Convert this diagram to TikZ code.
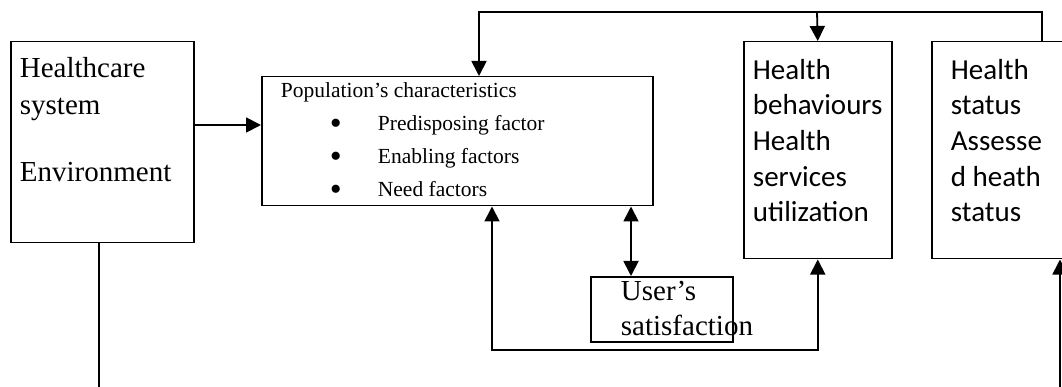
\documentclass[tikz,border=0pt]{standalone}
\usepackage{fontspec}
\setmainfont{Liberation Serif}
\newfontfamily\calibri{Carlito}
\usetikzlibrary{arrows.meta}
\newcommand{\popbullet}{\makebox[48pt][l]{\raisebox{-3.5pt}{\fontsize{34pt}{34pt}\selectfont\textbullet}}}

\begin{document}
\begin{tikzpicture}[x=1pt, y=-1pt, line width=1.8pt,
    box/.style={draw, line width=1.5pt, inner sep=0pt, anchor=north west},
    txt/.style={inner sep=0pt, anchor=base west, align=left},
    arr/.style={-{Triangle[length=15pt,width=15pt]}},
    arrs/.style={{Triangle[length=15pt,width=15pt]}-{Triangle[length=15pt,width=15pt]}}]
\useasboundingbox (0,0) rectangle (1062,387);
\node[box, minimum width=183pt, minimum height=201pt] (hcs) at (10,41) {};
\node[box, minimum width=391pt, minimum height=129pt] (pop) at (261,76) {};
\node[box, minimum width=148pt, minimum height=217pt] (hb) at (743,41) {};
\node[box, minimum width=150pt, minimum height=217pt] (hs) at (931,41) {};
\node[box, minimum width=142pt, minimum height=65pt] (sat) at (590,276) {};

\node[txt, font={\fontsize{29pt}{37pt}\selectfont}] (hcstext) at (19,182) {Healthcare\\system\\[30pt]Environment};
\node[txt, font={\fontsize{21.5pt}{33pt}\selectfont}] (poptitle) at (280,98) {Population’s characteristics};
\node[txt, font={\fontsize{21.5pt}{33pt}\selectfont}] (poplist) at (329,197) {\popbullet Predisposing factor\\\popbullet Enabling factors\\\popbullet Need factors};
\node[txt, font={\calibri\fontsize{29pt}{35.7pt}\selectfont}] (hbtext) at (752,222) {Health\\behaviours\\Health\\services\\utilization};
\node[txt, font={\calibri\fontsize{29pt}{35.7pt}\selectfont}] (hstext) at (950,222) {Health\\status\\Assesse\\d heath\\status};
\node[txt, font={\fontsize{29pt}{35pt}\selectfont}] (sattext) at (620,335) {User’s\\satisfaction};

\draw[arr] (hcs.east |- 0,125) -- (pop.west |- 0,125);
\draw[arr] (1042,0 |- hs.north) -- (1042,12) -| (479,0 |- pop.north);
\draw[arr] (817,12) -- (hb.north);
\draw[arrs] (631,0 |- pop.south) -- (631,0 |- sat.north);
\draw[arrs] (492,0 |- pop.south) -- (492,350) -| (hb.south);
\draw (99,0 |- hcs.south) -- (99,387);
\draw[arr] (1060,387) -- (1060,0 |- hs.south);
\end{tikzpicture}
\end{document}
